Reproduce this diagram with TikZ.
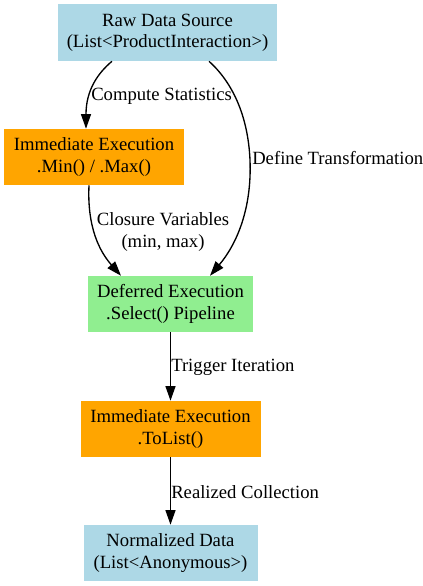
\documentclass[tikz,border=0pt]{standalone}
\usepackage{fontspec}
\setmainfont{Liberation Serif}
\newfontfamily\tmsfont{Liberation Serif}
\usetikzlibrary{arrows.meta,calc}
\definecolor{lblue}{HTML}{ADD8E6}
\definecolor{lorange}{HTML}{FFA500}
\definecolor{lgreen}{HTML}{90EE90}
\begin{document}
\begin{tikzpicture}[x=0.75pt,y=-0.75pt,
  font=\tmsfont\fontsize{14pt}{16pt}\selectfont,
  box/.style={rectangle,align=center,inner sep=0pt},
  edge/.style={line width=1pt,-{Triangle[length=11pt,width=7.5pt]}},
  elabel/.style={inner sep=0pt,align=center}]
\useasboundingbox (0,0) rectangle (423,586);
\fill[white] (0,0) rectangle (423,586);
\node[box,fill=lblue,minimum width=164.25pt,minimum height=42.75pt] (raw) at (167.5,32.5) {Raw Data Source\\(List<ProductInteraction>)};
\node[box,fill=lorange,minimum width=135pt,minimum height=42pt] (imm1) at (94,157) {Immediate Execution\\.Min() / .Max()};
\node[box,fill=lgreen,minimum width=123.75pt,minimum height=42pt] (def) at (170.5,304) {Deferred Execution\\.Select() Pipeline};
\node[box,fill=lorange,minimum width=135pt,minimum height=42pt] (imm2) at (170.5,429) {Immediate Execution\\.ToList()};
\node[box,fill=lblue,minimum width=130.5pt,minimum height=42pt] (norm) at (170.5,553) {Normalized Data\\(List<Anonymous>)};

\draw[edge] ($(raw.south)+(-55.5,0)$) .. controls (98,73) and (86,90) .. ($(imm1.north)+(-8,0)$);
\draw[edge] ($(raw.south)+(41.5,0)$) .. controls (232,82) and (248,115) .. (250,160) .. controls (252,210) and (236,245) .. ($(def.north)+(39.5,0)$);
\draw[edge] ($(imm1.south)+(-5,0)$) .. controls (87,228) and (100,252) .. ($(def.north)+(-49.5,0)$);
\draw[edge] (def) -- (imm2);
\draw[edge] (imm2) -- (norm);

\node[elabel,anchor=west] (l1) at (91,96) {Compute Statistics};
\node[elabel,anchor=west] (l2) at (252,158) {Define Transformation};
\node[elabel] (l3) at (163,232) {Closure Variables\\(min, max)};
\node[elabel,anchor=west] (l4) at (171,367) {Trigger Iteration};
\node[elabel,anchor=west] (l5) at (171,492) {Realized Collection};
\end{tikzpicture}
\end{document}
